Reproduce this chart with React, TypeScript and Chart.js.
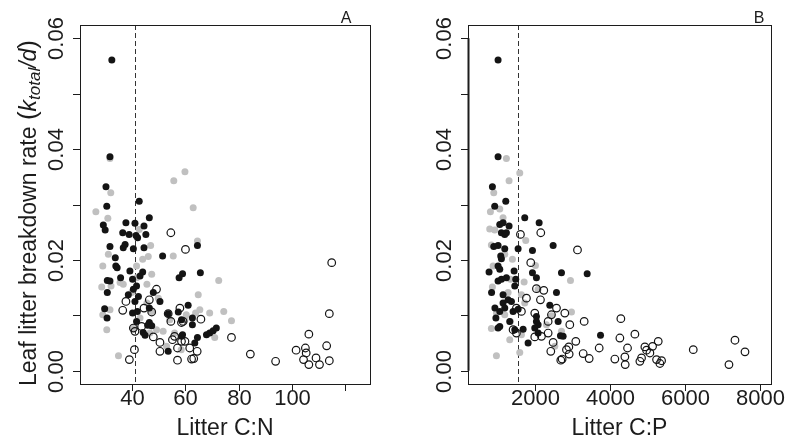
import React, { useEffect, useRef } from 'react';
import { Chart, registerables } from 'chart.js';

Chart.register(...registerables);

type P = [number, number];

// Panel A: Litter C:N vs breakdown rate
const cnBlack: P[] = [
  [32.3, 0.0561], [31.6, 0.0386], [30.1, 0.0332], [30.4, 0.0297], [29.1, 0.0263], [29.8, 0.0254],
  [37.6, 0.0267], [41.0, 0.0266], [36.4, 0.0249], [38.8, 0.0246], [41.4, 0.0244], [42.6, 0.0306],
  [44.4, 0.0261], [46.4, 0.0276], [45.1, 0.0246], [42.0, 0.024], [31.6, 0.0224], [36.6, 0.0222],
  [37.3, 0.0228], [40.4, 0.022], [44.4, 0.0222], [33.6, 0.0204], [51.4, 0.0207], [64.5, 0.0226],
  [33.8, 0.0189], [34.3, 0.0186], [39.1, 0.018], [43.9, 0.0178], [42.9, 0.0171], [58.9, 0.0175],
  [57.6, 0.0168], [65.6, 0.0177], [35.6, 0.0168], [30.6, 0.0163], [31.6, 0.0162], [40.1, 0.0165],
  [41.6, 0.0153], [40.4, 0.0147], [30.6, 0.0141], [38.5, 0.0137], [47.9, 0.0141], [42.3, 0.0134],
  [50.4, 0.0125], [29.6, 0.0112], [41.0, 0.0125], [46.4, 0.0113], [40.1, 0.0104], [41.9, 0.0107],
  [53.5, 0.0103], [57.3, 0.0106], [61.0, 0.0118], [30.5, 0.0095], [41.6, 0.0089], [46.4, 0.0087],
  [47.3, 0.0081], [62.6, 0.0095], [58.5, 0.0092], [62.6, 0.0083], [44.1, 0.0069], [44.8, 0.0064],
  [58.9, 0.0065], [58.5, 0.0062], [64.5, 0.006], [67.9, 0.0065], [69.1, 0.0068], [70.4, 0.0072],
  [71.6, 0.0077], [53.5, 0.0035], [45.8, 0.0082], [63.5, 0.005],
];
const cnGray: P[] = [
  [26.3, 0.0287], [30.8, 0.0275], [31.9, 0.0321], [31.6, 0.0383], [59.8, 0.0359], [55.6, 0.0343],
  [62.9, 0.0294], [64.5, 0.0234], [55.4, 0.0207], [46.9, 0.0226], [42.6, 0.0255], [28.9, 0.0189],
  [31.0, 0.021], [28.5, 0.0151], [32.0, 0.0153], [28.9, 0.0101], [30.4, 0.0074], [34.8, 0.0027],
  [36.6, 0.0156], [41.6, 0.0189], [46.0, 0.0206], [43.9, 0.0201], [47.3, 0.0174], [45.5, 0.0156],
  [41.6, 0.0168], [39.8, 0.0141], [45.5, 0.0122], [47.3, 0.0107], [49.8, 0.0131], [54.1, 0.0092],
  [51.6, 0.0071], [49.1, 0.0074], [55.9, 0.0068], [58.4, 0.0038], [64.8, 0.0137], [65.4, 0.011],
  [69.1, 0.0104], [72.5, 0.0163], [74.4, 0.0107], [77.3, 0.009], [71.0, 0.006], [60.3, 0.0101],
  [63.8, 0.0104], [42.9, 0.0095], [40.4, 0.0077], [46.6, 0.0068], [52.9, 0.0044], [59.8, 0.0092],
  [31.6, 0.011], [35.4, 0.0159],
];
const cnOpen: P[] = [
  [54.5, 0.0249], [60.0, 0.0219], [115.0, 0.0195], [114.1, 0.0103], [106.4, 0.0066], [113.1, 0.0045],
  [101.6, 0.0037], [105.1, 0.0041], [105.4, 0.0032], [104.4, 0.002], [109.1, 0.0023], [106.4, 0.0011],
  [110.4, 0.0011], [114.1, 0.0018], [93.9, 0.0017], [84.4, 0.003], [77.3, 0.006], [38.9, 0.002],
  [40.8, 0.0038], [36.4, 0.0109], [37.6, 0.0125], [49.1, 0.0147], [46.4, 0.0128], [44.4, 0.0113],
  [47.3, 0.0106], [40.4, 0.0077], [41.0, 0.0071], [43.5, 0.008], [47.9, 0.0061], [50.4, 0.0051],
  [50.4, 0.0035], [53.5, 0.0103], [54.5, 0.0089], [57.9, 0.0113], [58.5, 0.0087], [59.1, 0.0089],
  [65.8, 0.0093], [55.9, 0.0062], [55.1, 0.0056], [57.0, 0.0041], [58.5, 0.0053], [59.8, 0.0053],
  [61.6, 0.0041], [64.4, 0.0035], [57.0, 0.0019], [62.3, 0.0021], [63.1, 0.0022],
];

// Panel B: Litter C:P vs breakdown rate
const cpBlack: P[] = [
  [1022, 0.0561], [1022, 0.0386], [871, 0.0332], [933, 0.0297], [1227, 0.0306], [1067, 0.0264],
  [1155, 0.0267], [1315, 0.0261], [1111, 0.0249], [1200, 0.0246], [1244, 0.0249], [907, 0.0224],
  [1022, 0.0226], [1200, 0.022], [1093, 0.0207], [1111, 0.0202], [782, 0.0178], [1022, 0.0189],
  [1067, 0.0183], [1244, 0.0168], [1022, 0.0162], [1111, 0.0165], [1449, 0.018], [1493, 0.0165],
  [1467, 0.0153], [849, 0.0141], [1155, 0.0137], [1289, 0.0128], [1155, 0.0122], [1378, 0.0125],
  [938, 0.0113], [1067, 0.0107], [1200, 0.0113], [1422, 0.0107], [964, 0.0095], [1067, 0.008],
  [1022, 0.0077], [1333, 0.0089], [1467, 0.0074], [1689, 0.0075], [1556, 0.0111], [1556, 0.022],
  [1733, 0.0276], [2116, 0.0267], [2489, 0.0226], [1938, 0.0217], [1938, 0.0177], [2044, 0.0168],
  [2578, 0.0141], [2711, 0.0177], [3396, 0.0175], [2400, 0.0118], [2044, 0.0098], [2044, 0.0089],
  [2089, 0.0083], [2000, 0.0077], [2622, 0.0089], [1822, 0.005], [2089, 0.0068], [2684, 0.0063],
  [3751, 0.0064], [2755, 0.0062],
];
const cpGray: P[] = [
  [1244, 0.0383], [1315, 0.0343], [1600, 0.0357], [907, 0.0321], [818, 0.0287], [800, 0.0256],
  [1067, 0.0292], [1155, 0.0276], [844, 0.0227], [933, 0.0254], [889, 0.0189], [871, 0.0151],
  [844, 0.0076], [978, 0.0027], [1333, 0.0056], [1600, 0.0033], [1760, 0.0235], [2018, 0.019],
  [2089, 0.0147], [1716, 0.016], [1404, 0.0201], [1200, 0.021], [1351, 0.0165], [978, 0.0104],
  [1200, 0.0101], [1351, 0.0089], [1644, 0.0065], [1733, 0.0122], [2951, 0.0163], [2978, 0.0106],
  [2711, 0.0071], [2444, 0.0099], [2311, 0.0083], [2533, 0.0044], [1644, 0.0137], [1289, 0.0141],
];
const cpOpen: P[] = [
  [1618, 0.0246], [2160, 0.0249], [3138, 0.0218], [1893, 0.0195], [2044, 0.0148], [2240, 0.0145],
  [2151, 0.0128], [1778, 0.0131], [1511, 0.0113], [1644, 0.0107], [2000, 0.0104], [2578, 0.0113],
  [2444, 0.0101], [2800, 0.0104], [3316, 0.0089], [2933, 0.0083], [2356, 0.0089], [1422, 0.0074],
  [1511, 0.0068], [2000, 0.0061], [2178, 0.0062], [2356, 0.0068], [2489, 0.0051], [2427, 0.0035],
  [2844, 0.0038], [2907, 0.0043], [2916, 0.003], [2693, 0.0019], [2729, 0.0021], [3093, 0.0053],
  [3289, 0.0031], [3449, 0.0022], [3716, 0.0041], [4133, 0.0021], [4267, 0.0059], [4293, 0.0094],
  [4400, 0.0025], [4409, 0.0011], [4471, 0.0041], [4667, 0.0066], [4800, 0.0017], [4844, 0.0023],
  [4933, 0.0043], [4978, 0.0037], [5067, 0.0032], [5138, 0.0044], [5289, 0.0053], [5244, 0.002],
  [5333, 0.0013], [5378, 0.0018], [6222, 0.0038], [7173, 0.0011], [7333, 0.0055], [7600, 0.0034],
];

const yTickValues = [0, 0.01, 0.02, 0.03, 0.04, 0.05, 0.06];
const yTickLabels = ['0.00', '', '0.02', '', '0.04', '', '0.06'];
const cnTickValues = [40, 60, 80, 100, 120];
const cnTickLabels = ['40', '60', '80', '100', ''];
const cpTickValues = [2000, 4000, 6000, 8000];
const cpTickLabels = ['2000', '4000', '6000', '8000'];
const cnThreshold = 41;
const cpThreshold = 1540;

const FONT = '"Liberation Sans", Arial, Helvetica, sans-serif';
const INK = '#1c1c1c';

interface Spec {
  id: string;
  left: number;
  black: P[];
  gray: P[];
  open: P[];
  xMin: number;
  xMax: number;
  xTicks: number[];
  xLabels: string[];
  vline: number;
  letter: string;
  letterOffset: number;
  xTitle: string;
  yTitle: boolean;
  thickYAxis: boolean;
  padding: { left: number; right: number; top: number; bottom: number };
}

const specs: Spec[] = [
  {
    id: 'A', left: 0, black: cnBlack, gray: cnGray, open: cnOpen,
    xMin: 20.33, xMax: 129.4, xTicks: cnTickValues, xLabels: cnTickLabels,
    vline: cnThreshold, letter: 'A', letterOffset: 24, xTitle: 'Litter C:N', yTitle: true, thickYAxis: false,
    padding: { left: 80, right: 23, top: 25, bottom: 57 },
  },
  {
    id: 'B', left: 393, black: cpBlack, gray: cpGray, open: cpOpen,
    xMin: 221, xMax: 8293, xTicks: cpTickValues, xLabels: cpTickLabels,
    vline: cpThreshold, letter: 'B', letterOffset: 12, xTitle: 'Litter C:P', yTitle: false, thickYAxis: true,
    padding: { left: 75, right: 15, top: 25, bottom: 57 },
  },
];

function makePlugin(spec: Spec) {
  return {
    id: 'rstyle' + spec.id,
    beforeDatasetsDraw(chart: any) {
      const { ctx, chartArea: a, scales } = chart;
      const vx = Math.round(scales.x.getPixelForValue(spec.vline)) + 0.5;
      ctx.save();
      ctx.strokeStyle = '#333';
      ctx.lineWidth = 1;
      ctx.setLineDash([5, 3]);
      ctx.beginPath();
      ctx.moveTo(vx, a.top);
      ctx.lineTo(vx, a.bottom);
      ctx.stroke();
      ctx.restore();
    },
    afterDraw(chart: any) {
      const { ctx, chartArea: a, scales } = chart;
      const xs = scales.x;
      const ys = scales.y;
      ctx.save();
      ctx.strokeStyle = INK;
      ctx.fillStyle = INK;
      ctx.lineWidth = 1;
      ctx.strokeRect(Math.round(a.left) + 0.5, Math.round(a.top) + 0.5,
        Math.round(a.right - a.left), Math.round(a.bottom - a.top));
      if (spec.thickYAxis) {
        ctx.lineWidth = 2;
        ctx.beginPath();
        ctx.moveTo(Math.round(a.left) + 0.5, ys.getPixelForValue(yTickValues[0]));
        ctx.lineTo(Math.round(a.left) + 0.5, ys.getPixelForValue(yTickValues[yTickValues.length - 1]));
        ctx.stroke();
        ctx.lineWidth = 1;
      }
      ctx.font = `22px ${FONT}`;
      ctx.textAlign = 'center';
      ctx.textBaseline = 'alphabetic';
      spec.xTicks.forEach((v, i) => {
        const px = Math.round(xs.getPixelForValue(v)) + 0.5;
        ctx.beginPath();
        ctx.moveTo(px, a.bottom);
        ctx.lineTo(px, a.bottom + 7);
        ctx.stroke();
        if (spec.xLabels[i]) ctx.fillText(spec.xLabels[i], px, a.bottom + 21);
      });
      yTickValues.forEach((v, i) => {
        const py = Math.round(ys.getPixelForValue(v)) + 0.5;
        ctx.beginPath();
        ctx.moveTo(a.left, py);
        ctx.lineTo(a.left - 7, py);
        ctx.stroke();
        if (yTickLabels[i]) {
          ctx.save();
          ctx.translate(a.left - 17, py);
          ctx.rotate(-Math.PI / 2);
          ctx.fillText(yTickLabels[i], 0, 0);
          ctx.restore();
        }
      });
      ctx.font = `23px ${FONT}`;
      ctx.fillText(spec.xTitle, (a.left + a.right) / 2, a.bottom + 51);
      ctx.font = `16px ${FONT}`;
      ctx.fillText(spec.letter, a.right - spec.letterOffset, a.top - 2);
      if (spec.yTitle) {
        const size = 23;
        const segs: { t: string; f: string; dy: number }[] = [
          { t: 'Leaf litter breakdown rate ', f: `${size}px ${FONT}`, dy: 0 },
          { t: '(', f: `${size + 3}px ${FONT}`, dy: 0 },
          { t: 'k', f: `italic ${size}px ${FONT}`, dy: 0 },
          { t: 'total', f: `italic ${Math.round(size * 0.72)}px ${FONT}`, dy: 4 },
          { t: '/d', f: `italic ${size}px ${FONT}`, dy: 0 },
          { t: ')', f: `${size + 3}px ${FONT}`, dy: 0 },
        ];
        let total = 0;
        const widths = segs.map((s) => {
          ctx.font = s.f;
          const w = ctx.measureText(s.t).width;
          total += w;
          return w;
        });
        ctx.save();
        ctx.translate(36, 213);
        ctx.rotate(-Math.PI / 2);
        ctx.textAlign = 'left';
        let cx = -total / 2;
        segs.forEach((s, i) => {
          ctx.font = s.f;
          ctx.fillText(s.t, cx, s.dy);
          cx += widths[i];
        });
        ctx.restore();
      }
      ctx.restore();
    },
  };
}

function Panel({ spec }: { spec: Spec }) {
  const ref = useRef<HTMLCanvasElement>(null);
  useEffect(() => {
    const toPts = (arr: P[]) => arr.map(([x, y]) => ({ x, y }));
    const chart = new Chart(ref.current as HTMLCanvasElement, {
      type: 'scatter',
      data: {
        datasets: [
          {
            data: toPts(spec.open), pointRadius: 3.8, pointBorderWidth: 1.2,
            pointBackgroundColor: 'rgba(0,0,0,0)', pointBorderColor: '#141414', order: 1,
          },
          {
            data: toPts(spec.black), pointRadius: 3.5, pointBorderWidth: 0,
            pointBackgroundColor: '#141414', pointBorderColor: '#141414', order: 2,
          },
          {
            data: toPts(spec.gray), pointRadius: 3.5, pointBorderWidth: 0,
            pointBackgroundColor: '#c0c0c0', pointBorderColor: '#c0c0c0', order: 3,
          },
        ],
      },
      options: {
        animation: false,
        responsive: false,
        events: [],
        layout: { padding: spec.padding },
        plugins: { legend: { display: false }, tooltip: { enabled: false } },
        scales: {
          x: { type: 'linear', display: false, min: spec.xMin, max: spec.xMax },
          y: { type: 'linear', display: false, min: -0.0024, max: 0.0624 },
        },
      } as any,
      plugins: [makePlugin(spec)],
    });
    return () => chart.destroy();
  }, [spec]);
  return (
    <canvas
      ref={ref}
      width={393}
      height={441}
      style={{ position: 'absolute', left: spec.left, top: 0, width: 393, height: 441 }}
    />
  );
}

export default function App() {
  return (
    <div style={{ position: 'fixed', left: 0, top: 0, width: 786, height: 441, background: '#fff' }}>
      {specs.map((s) => (
        <Panel key={s.id} spec={s} />
      ))}
    </div>
  );
}
